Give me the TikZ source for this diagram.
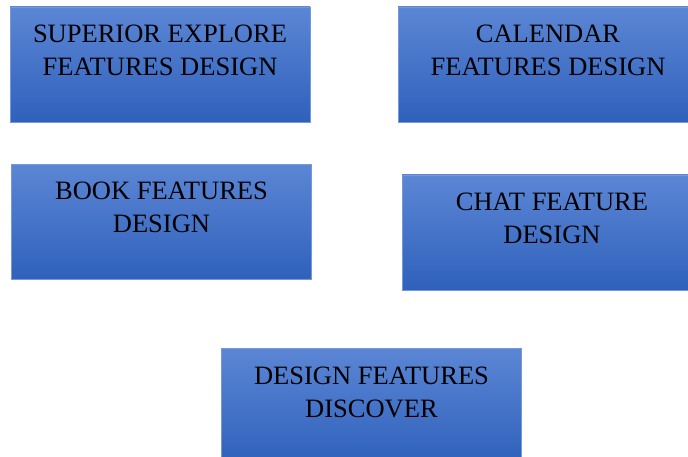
\documentclass[tikz,border=0pt]{standalone}
\usepackage{fontspec}
\setmainfont{Liberation Serif}
\usepackage{xcolor}
\usetikzlibrary{positioning}

\definecolor{boxtop}{RGB}{92,134,213}
\definecolor{boxmid}{RGB}{64,112,200}
\definecolor{boxbot}{RGB}{47,97,187}
\definecolor{boxline}{RGB}{115,152,220}

\begin{document}
\begin{tikzpicture}[
    x=1pt, y=-1pt,
    featbox/.style={rectangle, draw=boxline, line width=0.8pt, top color=boxtop, middle color=boxmid, bottom color=boxbot, minimum width=300pt, minimum height=115pt, inner sep=0pt},
    feattext/.style={font=\fontsize{26.5}{33}\selectfont, align=center, inner sep=0pt, anchor=north, text=black},
]
\useasboundingbox (0,0) rectangle (688,457);
\clip (0,0) rectangle (688,457);
% the five feature boxes
\node[featbox] (superior) at (160,64.5) {};
\node[featbox] (calendar) at (548,64.5) {};
\node[featbox] (book) at (161.5,222) {};
\node[featbox] (chat) at (552,232.5) {};
\node[featbox] (discover) at (371.5,405.5) {};
% captions sit near the top edge of each box
\node[feattext, below=18pt of superior.north] (superiortxt) {SUPERIOR EXPLORE\\FEATURES DESIGN};
\node[feattext, below=18pt of calendar.north] (calendartxt) {CALENDAR\\FEATURES DESIGN};
\node[feattext, below=18pt of book.north] (booktxt) {BOOK FEATURES\\DESIGN};
\node[feattext, below=18pt of chat.north] (chattxt) {CHAT FEATURE\\DESIGN};
\node[feattext, below=19pt of discover.north] (discovertxt) {DESIGN FEATURES\\DISCOVER};
\end{tikzpicture}
\end{document}
